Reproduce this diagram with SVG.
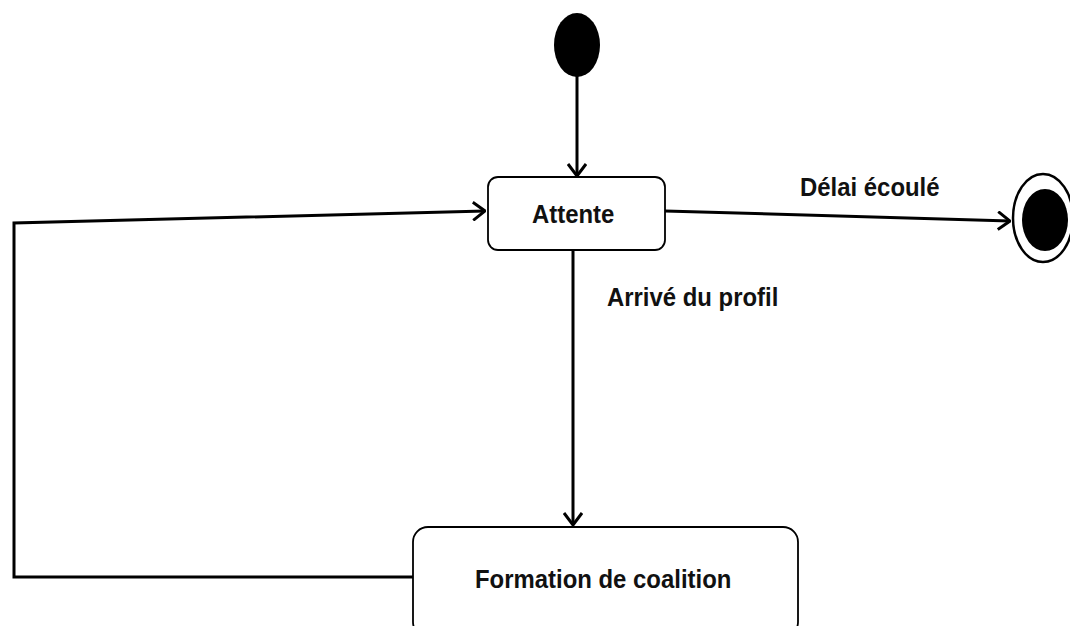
<svg xmlns="http://www.w3.org/2000/svg" width="1070" height="626" viewBox="0 0 1070 626">
<style>
.box{fill:#fff;stroke:#000;stroke-width:1.8}
.lbl{font-family:"Liberation Sans",Arial,sans-serif;font-weight:bold;font-size:26px;fill:#111}
.edge{fill:none;stroke:#000;stroke-width:3;stroke-linejoin:miter}
</style>
<defs>
<marker id="arr" viewBox="0 0 14 20" refX="13" refY="10" markerWidth="14" markerHeight="20" markerUnits="userSpaceOnUse" orient="auto">
<path d="M1,1 L13,10 L1,19" fill="none" stroke="#000" stroke-width="3"/>
</marker>
</defs>
<rect width="1070" height="626" fill="#fff"/>
<g id="connectors">
<path class="edge" d="M577,76 L577,176" marker-end="url(#arr)"/>
<path class="edge" d="M665,211 L1010,221" marker-end="url(#arr)"/>
<path class="edge" d="M573,250 L573,525" marker-end="url(#arr)"/>
<path class="edge" d="M413,577 L14,577 L14,223 L485,211" marker-end="url(#arr)"/>
<text class="lbl" transform="translate(800,196) scale(0.92,1)">Délai écoulé</text>
<text class="lbl" transform="translate(607,306) scale(0.92,1)">Arrivé du profil</text>
</g>
<g id="initial">
<ellipse cx="577" cy="45" rx="23" ry="32" fill="#000"/>
</g>
<g id="attente">
<rect class="box" x="488" y="177" width="177" height="73" rx="10"/>
<text class="lbl" transform="translate(532,223) scale(0.92,1)">Attente</text>
</g>
<g id="formation">
<rect class="box" x="413" y="527" width="385" height="110" rx="15"/>
<text class="lbl" transform="translate(475,588) scale(0.92,1)">Formation de coalition</text>
</g>
<g id="final">
<ellipse cx="1043" cy="218" rx="30" ry="44" fill="#fff" stroke="#000" stroke-width="2.5"/>
<ellipse cx="1045" cy="220" rx="23" ry="31" fill="#000"/>
</g>
</svg>
